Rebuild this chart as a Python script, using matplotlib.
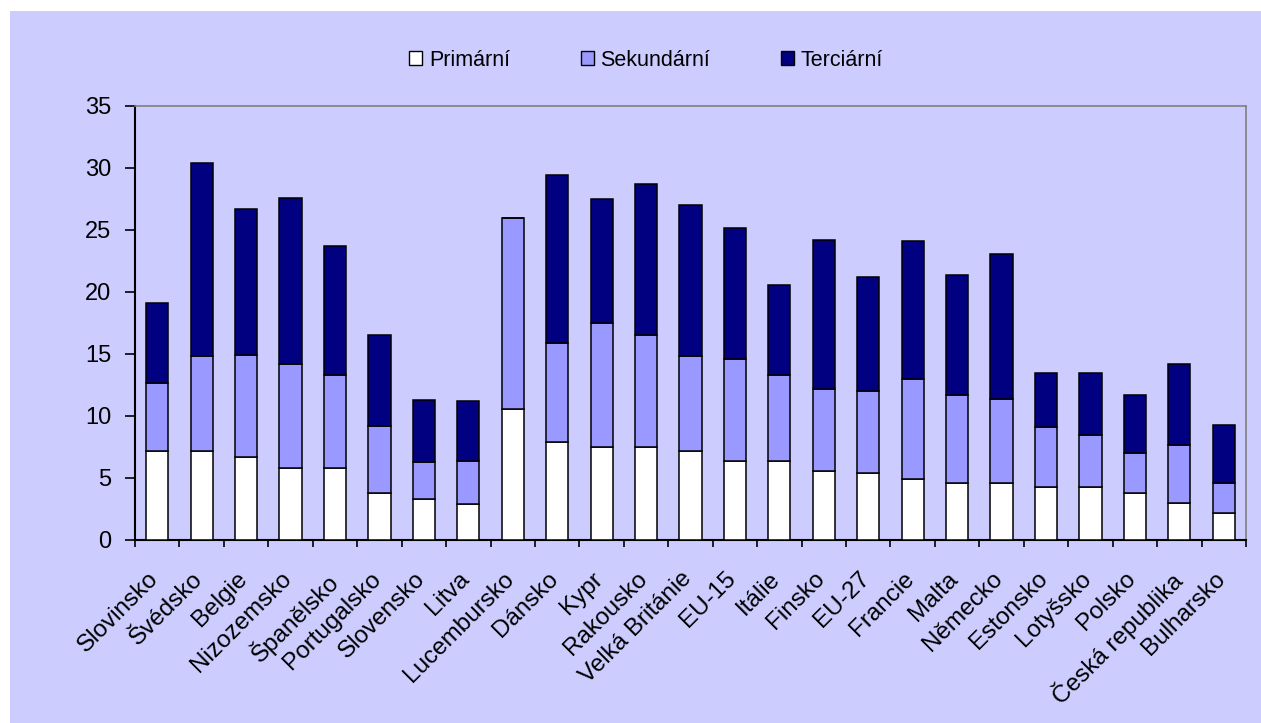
import matplotlib
matplotlib.use("Agg")
import matplotlib.pyplot as plt
from matplotlib.patches import Rectangle, Patch
from matplotlib.transforms import ScaledTranslation
import numpy as np

plt.rcParams['font.family'] = ['Liberation Sans', 'DejaVu Sans']

countries = ["Slovinsko", "Švédsko", "Belgie", "Nizozemsko", "Španělsko", "Portugalsko",
             "Slovensko", "Litva", "Lucembursko", "Dánsko", "Kypr", "Rakousko",
             "Velká Británie", "EU-15", "Itálie", "Finsko", "EU-27", "Francie", "Malta",
             "Německo", "Estonsko", "Lotyšsko", "Polsko", "Česká republika", "Bulharsko"]

primarni = [7.2, 7.2, 6.7, 5.8, 5.8, 3.8, 3.3, 2.9, 10.6, 7.9, 7.5, 7.5, 7.2, 6.4, 6.4,
            5.6, 5.4, 4.9, 4.6, 4.6, 4.3, 4.3, 3.8, 3.0, 2.2]
sekundarni = [5.5, 7.6, 8.2, 8.4, 7.5, 5.4, 3.0, 3.5, 15.4, 8.0, 10.0, 9.0, 7.6, 8.2, 6.9,
              6.6, 6.6, 8.1, 7.1, 6.8, 4.8, 4.2, 3.2, 4.7, 2.4]
terciarni = [6.4, 15.6, 11.8, 13.4, 10.4, 7.3, 5.0, 4.8, 0.0, 13.5, 10.0, 12.2, 12.2, 10.6,
             7.3, 12.0, 9.2, 11.1, 9.7, 11.7, 4.4, 5.0, 4.7, 6.5, 4.7]

series_names = ["Primární", "Sekundární", "Terciární"]
colors = ["#FFFFFF", "#9999FF", "#000080"]
yticks = [0, 5, 10, 15, 20, 25, 30, 35]

W, H = 1261, 723
fig = plt.figure(figsize=(W / 100, H / 100), dpi=100, facecolor="white")
fig.patches.append(Rectangle((10 / W, 0), 1 - 10 / W, 1 - 11 / H, transform=fig.transFigure,
                             facecolor="#CCCCFF", edgecolor="none", zorder=-10))

ax = fig.add_axes([135 / W, (H - 540) / H, 1111 / W, 434 / H])
ax.set_facecolor("#CCCCFF")

x = np.arange(len(countries))
bottom = np.zeros(len(countries))
for vals, col in zip([primarni, sekundarni, terciarni], colors):
    v = np.array(vals)
    ax.bar(x, v, width=0.5, bottom=bottom, color=col, edgecolor="black", linewidth=1.1, zorder=3)
    bottom += v

ax.set_xlim(-0.5, len(countries) - 0.5)
ax.set_ylim(0, 35)
ax.set_yticks(yticks)
ax.set_yticklabels([str(t) for t in yticks], fontsize=17)
ax.tick_params(axis='y', direction='out', length=7, width=1.2, pad=10)

ax.set_xticks(x)
ax.set_xticklabels(countries, rotation=45, ha='right', va='top', rotation_mode='anchor', fontsize=17.5)
ax.tick_params(axis='x', which='major', length=0, pad=20)
off = ScaledTranslation(-10 / 100, 0, fig.dpi_scale_trans)
for lbl in ax.get_xticklabels():
    lbl.set_transform(lbl.get_transform() + off)
ax.set_xticks(np.arange(-0.5, len(countries), 1.0), minor=True)
ax.tick_params(axis='x', which='minor', direction='out', length=5, width=1.2)

for s in ['left', 'bottom']:
    ax.spines[s].set_color('black')
    ax.spines[s].set_linewidth(1.5)
for s in ['top', 'right']:
    ax.spines[s].set_color('#808080')
    ax.spines[s].set_linewidth(1.2)

handles = [Patch(facecolor=c, edgecolor='black', linewidth=1.0) for c in colors]
fig.legend(handles, series_names, loc='center', bbox_to_anchor=(646 / W, 1 - 60 / H), ncol=3,
           frameon=False, fontsize=15.5, handlelength=0.6, handleheight=0.6, handletextpad=0.3,
           columnspacing=3.3)

fig.savefig("out.png", dpi=100, facecolor=fig.get_facecolor())
